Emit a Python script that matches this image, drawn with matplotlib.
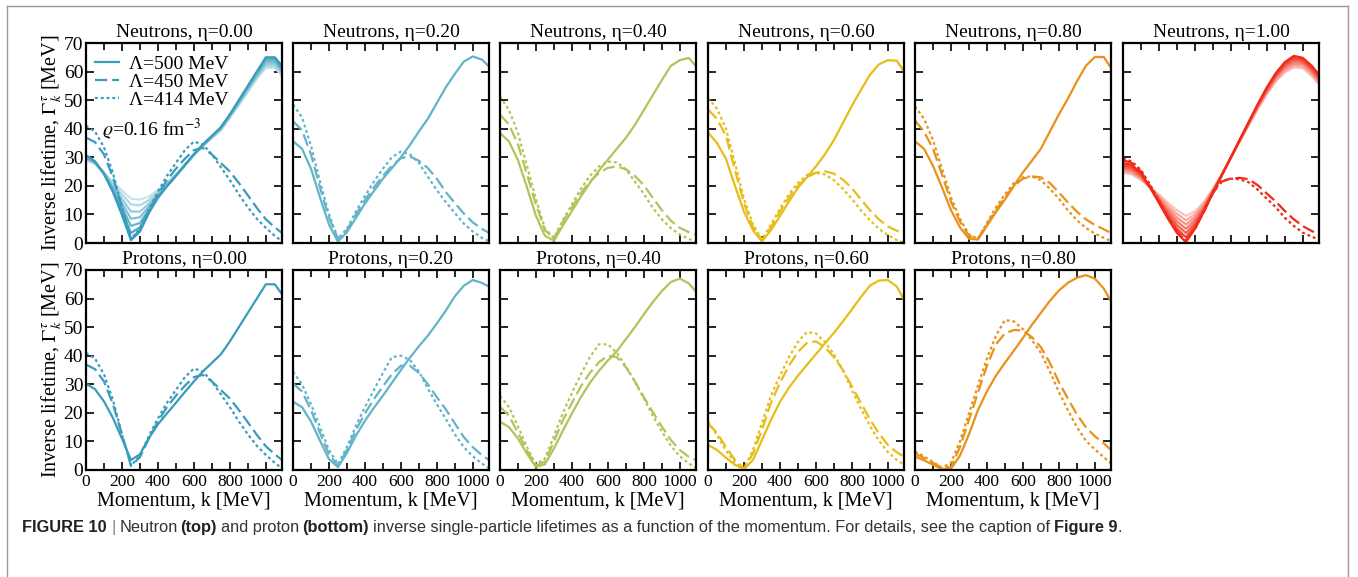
import numpy as np
import matplotlib.pyplot as plt
from matplotlib.colors import to_rgb
from matplotlib.ticker import MultipleLocator
from matplotlib.lines import Line2D
from matplotlib.font_manager import findfont, FontProperties
from matplotlib.ft2font import FT2Font

plt.rcParams['font.family'] = ['Liberation Serif', 'DejaVu Serif']
plt.rcParams['mathtext.fontset'] = 'stix'

# momentum grid [MeV]
k = [0, 50, 100, 150, 200, 250, 300, 350, 400, 450, 500, 550,
     600, 650, 700, 750, 800, 850, 900, 950, 1000, 1050, 1090]

# ---- neutrons ----
n000_500 = [30.8, 28.6, 24.2, 17.8, 9.8, 1.0, 4.0, 10.5, 15.8, 19.8, 23.5, 27.3,
            31.0, 34.5, 37.5, 40.5, 45.0, 50.0, 55.0, 60.0, 65.0, 65.0, 62.0]
n000_450 = [36.9, 35.3, 31.0, 23.0, 12.5, 1.5, 4.5, 11.0, 17.0, 22.0, 26.0, 29.5,
            32.5, 33.3, 31.0, 28.0, 25.0, 21.0, 16.7, 12.3, 8.3, 5.5, 3.5]
n000_414 = [41.0, 39.0, 33.5, 24.5, 12.5, 1.5, 5.0, 12.0, 18.0, 23.5, 28.0, 32.5,
            35.5, 34.5, 31.0, 26.5, 22.0, 17.0, 12.5, 8.5, 5.3, 2.5, 0.6]
# fainter solid curves in the symmetric-matter panel
n000_band = [
    [30.4, 28.4, 24.2, 18.3, 11.2, 3.5, 5.5, 11.2, 16.0, 19.9, 23.5, 27.3,
     31.0, 34.4, 37.4, 40.4, 44.9, 49.8, 54.8, 59.7, 64.6, 64.6, 61.3],
    [30.0, 28.2, 24.3, 18.8, 12.5, 6.0, 7.0, 11.8, 16.3, 20.0, 23.5, 27.3,
     31.0, 34.3, 37.3, 40.3, 44.8, 49.6, 54.5, 59.3, 64.0, 64.0, 60.7],
    [29.8, 28.1, 24.4, 19.4, 14.0, 8.5, 9.0, 12.8, 16.8, 20.2, 23.6, 27.3,
     31.0, 34.2, 37.2, 40.1, 44.6, 49.3, 54.1, 58.8, 63.3, 63.3, 60.2],
    [29.6, 28.0, 24.5, 20.0, 15.5, 11.0, 11.0, 13.8, 17.3, 20.5, 23.7, 27.3,
     30.9, 34.1, 37.0, 39.9, 44.3, 48.9, 53.7, 58.3, 62.6, 62.6, 59.6],
    [29.3, 27.8, 24.6, 20.7, 17.0, 13.5, 13.2, 15.0, 18.0, 20.8, 23.9, 27.3,
     30.9, 33.9, 36.8, 39.6, 44.0, 48.5, 53.2, 57.8, 61.9, 61.9, 59.0],
    [29.0, 27.7, 24.7, 21.3, 18.4, 15.5, 15.2, 16.2, 18.6, 21.0, 24.0, 27.3,
     30.9, 33.8, 36.7, 39.3, 43.8, 48.2, 52.8, 57.5, 61.3, 61.3, 58.5],
]
n020_500 = [35.6, 33.0, 26.0, 16.0, 6.5, 0.5, 3.8, 8.8, 13.8, 18.2, 22.5, 26.2,
            30.0, 34.3, 39.0, 43.5, 49.0, 54.5, 59.2, 63.5, 65.3, 64.2, 61.8]
n020_450 = [42.6, 39.5, 31.0, 19.5, 9.0, 1.5, 4.5, 10.0, 15.0, 19.5, 23.5, 27.0,
            29.7, 30.3, 28.8, 26.2, 22.5, 17.8, 14.0, 10.3, 7.2, 5.0, 3.5]
n020_414 = [48.4, 44.0, 34.0, 21.5, 10.0, 1.5, 5.0, 11.0, 16.5, 21.5, 26.0, 30.0,
            32.0, 31.0, 28.0, 23.2, 18.5, 14.3, 10.5, 6.8, 4.0, 1.8, 0.6]
n040_500 = [38.5, 35.5, 29.0, 19.5, 9.5, 2.5, 0.8, 6.2, 11.2, 16.3, 21.0, 25.3,
            29.2, 33.0, 36.8, 41.3, 46.5, 51.8, 57.0, 62.0, 64.0, 64.8, 61.8]
n040_450 = [44.9, 41.5, 34.5, 24.0, 13.5, 4.5, 1.5, 7.5, 12.5, 17.5, 21.5, 24.5,
            26.3, 26.8, 25.8, 23.5, 20.2, 15.8, 11.5, 7.8, 5.3, 3.8, 2.9]
n040_414 = [51.3, 46.5, 38.5, 27.0, 15.3, 5.0, 1.8, 8.0, 13.5, 19.0, 23.5, 26.8,
            28.5, 28.2, 25.8, 21.5, 17.2, 12.3, 8.3, 5.2, 3.0, 1.4, 0.4]
n060_500 = [38.7, 35.0, 29.5, 20.0, 11.0, 4.5, 0.5, 4.5, 9.4, 14.5, 19.3, 23.0,
            26.8, 31.0, 36.0, 42.0, 48.0, 53.5, 58.8, 62.5, 64.0, 63.8, 60.1]
n060_450 = [46.7, 43.5, 37.5, 25.5, 14.0, 5.5, 1.0, 5.5, 11.0, 16.0, 20.0, 23.0,
            24.6, 25.1, 24.3, 22.2, 19.2, 15.3, 11.5, 8.3, 5.8, 4.3, 3.3]
n060_414 = [50.8, 47.0, 40.0, 28.0, 15.5, 6.5, 1.2, 6.5, 12.0, 17.0, 21.0, 23.8,
            24.5, 24.0, 22.0, 19.0, 15.5, 11.5, 8.0, 5.0, 2.8, 1.0, 0.2]
n080_500 = [35.6, 33.0, 27.0, 19.5, 11.5, 5.5, 1.5, 1.2, 6.0, 10.8, 15.2, 20.0,
            24.7, 28.8, 33.0, 39.0, 45.0, 50.5, 56.5, 62.0, 65.1, 65.1, 61.3]
n080_450 = [42.9, 39.0, 33.0, 24.0, 14.5, 7.5, 2.5, 1.5, 6.5, 11.5, 16.0, 20.0,
            22.5, 23.3, 23.0, 21.0, 17.7, 14.2, 11.0, 8.3, 6.3, 4.8, 3.5]
n080_414 = [47.8, 43.5, 36.0, 26.0, 16.0, 8.5, 3.0, 1.5, 7.0, 12.5, 17.0, 21.0,
            23.0, 23.3, 22.0, 19.0, 15.5, 11.5, 8.0, 5.3, 3.3, 1.8, 0.6]
n100_500 = [28.0, 27.3, 24.5, 19.5, 14.0, 8.5, 3.5, 0.3, 5.0, 11.0, 17.5, 23.8,
            30.0, 36.3, 42.5, 48.7, 54.5, 59.5, 63.3, 65.5, 64.8, 62.0, 58.9]
n100_450 = [29.0, 28.0, 25.0, 20.0, 14.5, 9.0, 4.0, 0.8, 5.0, 11.0, 17.5, 21.5,
            22.6, 22.8, 22.3, 20.2, 17.3, 14.5, 11.2, 8.3, 5.9, 4.2, 2.9]
n100_414 = [29.6, 28.5, 25.5, 20.5, 14.8, 9.2, 4.0, 0.8, 5.0, 11.2, 18.0, 21.8,
            22.5, 22.3, 21.2, 18.6, 15.5, 12.5, 8.8, 6.0, 3.6, 2.2, 1.2]
n100_band = [
    [27.3, 26.6, 24.0, 19.5, 14.5, 9.5, 5.0, 2.0, 6.0, 11.5, 17.7, 23.8,
     30.0, 36.2, 42.3, 48.4, 54.0, 59.0, 62.7, 64.8, 64.2, 61.4, 58.3],
    [26.7, 26.0, 23.6, 19.5, 15.0, 10.4, 6.3, 3.5, 7.0, 12.0, 17.9, 23.8,
     29.9, 36.0, 42.1, 48.1, 53.6, 58.5, 62.1, 64.1, 63.6, 60.8, 57.7],
    [26.1, 25.5, 23.2, 19.5, 15.5, 11.3, 7.6, 5.0, 8.0, 12.6, 18.1, 23.9,
     29.9, 35.9, 41.9, 47.8, 53.2, 58.0, 61.5, 63.4, 63.0, 60.2, 57.1],
    [25.5, 25.0, 22.8, 19.5, 16.0, 12.2, 8.9, 6.5, 9.0, 13.2, 18.4, 24.0,
     29.9, 35.8, 41.7, 47.5, 52.8, 57.5, 60.9, 62.7, 62.4, 59.6, 56.5],
    [25.0, 24.5, 22.4, 19.5, 16.5, 13.1, 10.2, 8.0, 10.0, 13.8, 18.7, 24.1,
     29.9, 35.7, 41.5, 47.2, 52.4, 57.0, 60.3, 62.0, 61.8, 59.0, 55.9],
    [24.5, 24.0, 22.0, 19.5, 17.0, 14.0, 11.5, 9.5, 11.0, 14.4, 19.0, 24.2,
     29.9, 35.6, 41.3, 46.9, 52.0, 56.5, 59.7, 61.4, 61.2, 58.4, 55.4],
]

# ---- protons ----
p000_500 = [30.2, 28.3, 24.0, 18.2, 11.0, 3.5, 5.5, 11.2, 16.0, 19.8, 23.5, 27.3,
            31.0, 34.5, 37.5, 40.5, 45.0, 50.0, 55.0, 60.0, 65.0, 65.0, 61.5]
p000_450 = [36.9, 35.3, 31.0, 23.0, 12.5, 1.5, 4.5, 11.0, 17.0, 22.0, 26.0, 29.5,
            32.5, 33.3, 31.0, 28.0, 25.0, 21.0, 16.7, 12.3, 8.3, 5.5, 3.5]
p000_414 = [41.0, 39.0, 33.5, 24.5, 12.5, 1.5, 5.0, 12.0, 18.0, 23.5, 28.0, 32.5,
            35.5, 34.5, 31.0, 26.5, 22.0, 17.0, 12.5, 8.5, 5.3, 2.5, 0.6]
p020_500 = [23.9, 22.0, 17.0, 10.3, 3.8, 1.0, 6.0, 12.0, 17.2, 21.8, 26.0, 30.5,
            35.0, 39.3, 43.3, 47.0, 51.3, 55.8, 60.8, 64.5, 66.5, 65.5, 64.2]
p020_450 = [30.3, 27.5, 21.0, 13.0, 5.5, 1.5, 7.0, 14.0, 19.8, 24.8, 29.3, 33.5,
            36.5, 36.5, 34.0, 30.0, 25.5, 21.2, 16.3, 11.5, 8.0, 5.2, 3.5]
p020_414 = [34.4, 30.0, 23.0, 15.0, 7.0, 2.0, 8.0, 15.5, 22.0, 28.0, 34.0, 39.5,
            40.0, 38.5, 34.5, 28.5, 23.0, 17.8, 12.5, 8.0, 4.8, 2.3, 0.6]
p040_500 = [16.9, 15.0, 11.0, 5.7, 1.0, 2.0, 7.5, 13.8, 19.8, 25.5, 30.5, 34.7,
            38.3, 41.6, 45.8, 50.0, 54.5, 58.8, 62.6, 65.8, 67.0, 65.3, 62.4]
p040_450 = [22.2, 19.0, 13.0, 6.8, 1.5, 3.0, 10.0, 17.5, 23.5, 29.3, 34.0, 37.7,
            40.0, 39.5, 36.0, 31.0, 25.5, 20.3, 15.2, 10.5, 7.0, 4.6, 3.5]
p040_414 = [25.9, 22.0, 15.3, 8.0, 2.0, 4.0, 12.0, 20.0, 27.0, 33.5, 39.5, 44.0,
            44.0, 41.0, 36.3, 31.0, 25.0, 19.0, 13.5, 8.5, 4.8, 2.3, 0.6]
p060_500 = [8.8, 7.0, 4.3, 1.8, 0.3, 3.5, 10.5, 17.5, 23.8, 28.8, 33.0, 36.8,
            40.5, 44.3, 48.0, 52.0, 56.2, 60.5, 64.5, 66.3, 66.5, 64.2, 59.5]
p060_450 = [16.3, 13.0, 8.0, 3.5, 0.5, 5.8, 14.0, 23.5, 30.5, 36.5, 41.3, 44.5,
            45.0, 43.0, 39.5, 35.0, 29.3, 23.5, 17.8, 12.8, 8.8, 6.2, 4.7]
p060_414 = [16.9, 12.2, 6.8, 2.5, 0.5, 7.0, 16.5, 26.0, 33.0, 39.5, 44.8, 48.3,
            47.8, 44.8, 40.5, 35.0, 28.0, 21.5, 15.5, 10.3, 6.3, 3.5, 1.8]
p080_500 = [4.7, 3.4, 1.8, 0.4, 0.5, 5.0, 12.5, 21.0, 27.5, 33.0, 37.5, 41.8,
            46.2, 50.8, 55.0, 59.2, 62.8, 65.5, 67.3, 68.2, 67.0, 63.5, 59.0]
p080_450 = [5.8, 4.2, 2.5, 0.8, 1.0, 8.0, 17.5, 27.0, 36.5, 44.0, 47.8, 49.0,
            48.8, 46.5, 43.0, 37.5, 30.8, 25.0, 19.5, 15.0, 11.8, 9.3, 7.0]
p080_414 = [6.4, 4.8, 2.8, 0.8, 2.5, 10.0, 19.8, 29.5, 39.0, 47.0, 52.5, 52.0,
            49.3, 45.5, 41.0, 34.5, 27.3, 21.0, 15.0, 10.3, 7.2, 4.5, 2.3]

etas = ['0.00', '0.20', '0.40', '0.60', '0.80', '1.00']
colors = ['#3a9cbc', '#62b4c8', '#b3c35a', '#e7bd17', '#e8921a', '#ef2a17']
cutoffs = ['Λ=500 MeV', 'Λ=450 MeV', 'Λ=414 MeV']

neutrons = [(n000_500, n000_450, n000_414), (n020_500, n020_450, n020_414),
            (n040_500, n040_450, n040_414), (n060_500, n060_450, n060_414),
            (n080_500, n080_450, n080_414), (n100_500, n100_450, n100_414)]
protons = [(p000_500, p000_450, p000_414), (p020_500, p020_450, p020_414),
           (p040_500, p040_450, p040_414), (p060_500, p060_450, p060_414),
           (p080_500, p080_450, p080_414)]
bands = {0: n000_band, 5: n100_band}

W, H = 1358, 577
lefts = [86, 293, 500, 708, 915, 1123]
tops = [43, 270]
styles = [dict(ls='-'), dict(ls='--', dashes=(5.5, 2.2)), dict(ls=':', dashes=(1.3, 1.3))]
LW = 1.6


def faded(c, f):
    r = np.array(to_rgb(c))
    return tuple(r * (1 - f) + f)


fig = plt.figure(figsize=(W / 100, H / 100), dpi=100)


def panel(row, col, curves, band=None):
    ax = fig.add_axes([lefts[col] / W, (H - tops[row] - 200) / H, 196 / W, 200 / H])
    c = colors[col]
    if band:
        for i in range(len(band) - 1, -1, -1):
            ax.plot(k, band[i], color=faded(c, 0.12 * (i + 1)), lw=LW)
    for y, st in zip(curves, styles):
        ax.plot(k, y, color=c, lw=LW, **st)
    ax.set_xlim(0, 1090)
    ax.set_ylim(0, 70)
    ax.xaxis.set_major_locator(MultipleLocator(200))
    ax.xaxis.set_minor_locator(MultipleLocator(100))
    ax.yaxis.set_major_locator(MultipleLocator(10))
    ax.tick_params(which='both', direction='in', top=True, right=True, width=1.2,
                   labelsize=14, pad=2)
    ax.tick_params(which='major', length=6)
    ax.tick_params(which='minor', length=5)
    ax.tick_params(axis='x', labelsize=12.5, pad=3)
    for s in ax.spines.values():
        s.set_linewidth(1.6)
    name = 'Neutrons' if row == 0 else 'Protons'
    ax.set_title(f'{name}, η={etas[col]}', fontsize=14, pad=4)
    if col == 0:
        ax.set_ylabel(r'Inverse lifetime, $\Gamma_k^\tau$ [MeV]', fontsize=14.5, labelpad=0)
    else:
        ax.tick_params(labelleft=False)
    if row == 1:
        ax.set_xlabel('Momentum, k [MeV]', fontsize=14.5, labelpad=1)
    else:
        ax.tick_params(labelbottom=False)
    return ax


for j, curves in enumerate(neutrons):
    ax = panel(0, j, curves, bands.get(j))
    if j == 0:
        ax0 = ax
for j, curves in enumerate(protons):
    panel(1, j, curves)

handles = [Line2D([], [], color=colors[0], lw=LW, **st) for st in styles]
ax0.legend(handles, cutoffs, loc='upper left', frameon=False, fontsize=14,
           handlelength=1.25, handletextpad=0.5, labelspacing=0.02,
           borderaxespad=0.0, borderpad=0.0, bbox_to_anchor=(0.045, 0.94))
ax0.text(0.08, 0.565, r'$\varrho$=0.16 fm$^{-3}$', transform=ax0.transAxes,
         fontsize=14, va='center', ha='left')

# frame round the figure
for xs, ys in [([7, 7], [0, 571]), ([7, 1348], [571, 571]), ([1348, 1348], [0, 571])]:
    fig.add_artist(Line2D([x / W for x in xs], [y / H for y in ys], color='#9a9a9a', lw=1.0))

# caption with bold pieces, placed by glyph advance widths
CAP_SIZE = 11.8
fonts = {}
for wt in ('normal', 'bold'):
    f = FT2Font(findfont(FontProperties(family='Liberation Sans', weight=wt)))
    f.set_size(CAP_SIZE, 100)
    fonts[wt] = f


def advance(s, wt):
    f = fonts[wt]
    return sum(f.load_char(ord(ch)).linearHoriAdvance for ch in s) / 65536.0


cap_y = (H - 532) / H
# (text, weight, colour, extra shift before the piece in px)
segs = [('FIGURE 10', 'bold', '#222222', 0), ('|', 'normal', '#888888', 0),
        ('Neutron', 'normal', '#333333', 0), ('(top)', 'bold', '#222222', -3),
        ('and proton', 'normal', '#333333', 0), ('(bottom)', 'bold', '#222222', -1),
        ('inverse single-particle lifetimes as a function of the momentum. For details, see the caption of',
         'normal', '#333333', 0),
        ('Figure 9', 'bold', '#222222', 0), ('.', 'normal', '#333333', 0)]
x = 22.0
for i, (s, wt, col, dx) in enumerate(segs):
    if i > 0 and s != '.':
        x += advance(' ', 'normal')
    x += dx
    fig.text(x / W, cap_y, s, weight=wt, color=col, va='baseline', ha='left',
             family='Liberation Sans', fontsize=CAP_SIZE)
    x += advance(s, wt)

fig.savefig('out.png', dpi=100)
